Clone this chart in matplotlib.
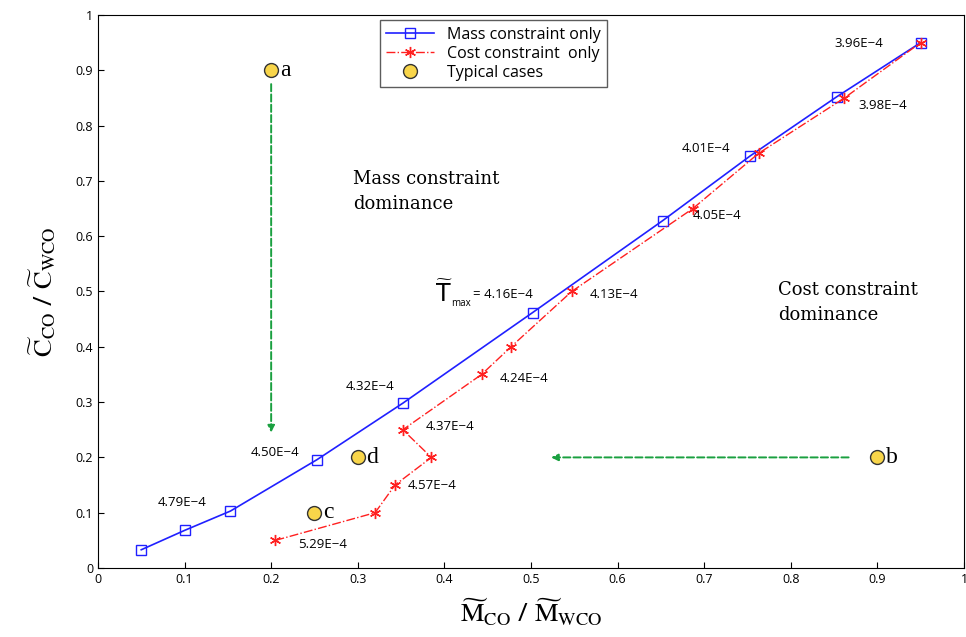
import matplotlib
matplotlib.use("Agg")
from matplotlib import pyplot as plt

plt.rcParams['font.family'] = ['Open Sans', 'DejaVu Sans']
plt.rcParams['mathtext.fontset'] = 'stix'

# data
mass_x = [0.05, 0.10, 0.153, 0.253, 0.352, 0.502, 0.652, 0.753, 0.853, 0.95]
mass_y = [0.033, 0.068, 0.103, 0.196, 0.298, 0.462, 0.628, 0.745, 0.852, 0.95]

cost_x = [0.205, 0.32, 0.343, 0.385, 0.352, 0.443, 0.477, 0.547, 0.687, 0.763, 0.862, 0.95]
cost_y = [0.05, 0.10, 0.15, 0.20, 0.25, 0.35, 0.40, 0.50, 0.65, 0.75, 0.85, 0.95]

case_x = [0.2, 0.9, 0.25, 0.3]
case_y = [0.9, 0.2, 0.1, 0.2]
case_lbl = ['a', 'b', 'c', 'd']

# T labels: text, x, y
t_lbl = ['3.96E\u22124', '3.98E\u22124', '4.01E\u22124', '4.05E\u22124', '4.13E\u22124',
         '4.24E\u22124', '4.32E\u22124', '4.37E\u22124', '4.50E\u22124', '4.57E\u22124',
         '4.79E\u22124', '5.29E\u22124']
t_x = [0.851, 0.878, 0.674, 0.687, 0.568, 0.464, 0.286, 0.378, 0.176, 0.358, 0.069, 0.231]
t_y = [0.949, 0.837, 0.759, 0.637, 0.494, 0.343, 0.329, 0.255, 0.208, 0.150, 0.118, 0.042]

ticks = [0, 0.1, 0.2, 0.3, 0.4, 0.5, 0.6, 0.7, 0.8, 0.9, 1]
tick_lbl = ['0', '0.1', '0.2', '0.3', '0.4', '0.5', '0.6', '0.7', '0.8', '0.9', '1']

fig = plt.figure(figsize=(9.66, 6.37), dpi=100)
ax = fig.add_axes([0.1014, 0.1083, 0.8965, 0.8682])

ax.plot(mass_x, mass_y, '-', color='#2020ff', lw=1.2, marker='s', ms=6.5,
        mfc='none', mec='#2020ff', mew=1.0, label='Mass constraint only')
ax.plot(cost_x, cost_y, '-.', color='#ff2020', lw=1.0, marker=(6, 2, 0), ms=8,
        mfc='#ff2020', mec='#ff2020', mew=1.0, label='Cost constraint  only')
ax.plot(case_x, case_y, 'o', ls='none', ms=10, mfc='#f8d54a', mec='#333333',
        mew=1.0, label='Typical cases')

for i in range(len(case_lbl)):
    ax.text(case_x[i] + 0.01, case_y[i], case_lbl[i], family='Liberation Serif',
            fontsize=17, va='center', ha='left')

for i in range(len(t_lbl)):
    ax.text(t_x[i], t_y[i], t_lbl[i], fontsize=9.5, va='center', ha='left')

# T max label
ax.text(0.389, 0.481, r'$\widetilde{\mathrm{T}}$', fontsize=17,
        math_fontfamily='dejavusans', va='baseline', ha='left')
ax.text(0.408, 0.474, 'max', fontsize=7, va='baseline', ha='left')
ax.text(0.433, 0.494, '= 4.16E\u22124', fontsize=9.5, va='center', ha='left')

ax.text(0.295, 0.68, 'Mass constraint\ndominance', family='DejaVu Serif',
        fontsize=13, va='center', ha='left', linespacing=1.5)
ax.text(0.785, 0.48, 'Cost constraint\ndominance', family='DejaVu Serif',
        fontsize=13, va='center', ha='left', linespacing=1.5)

# arrows
ax.annotate('', xy=(0.2, 0.24), xytext=(0.2, 0.88),
            arrowprops=dict(arrowstyle='-|>', color='#1aa040', ls='--', lw=1.4,
                            mutation_scale=10))
ax.annotate('', xy=(0.52, 0.2), xytext=(0.87, 0.2),
            arrowprops=dict(arrowstyle='-|>', color='#1aa040', ls='--', lw=1.4,
                            mutation_scale=10))

ax.set_xlim(0, 1)
ax.set_ylim(0, 1)
ax.set_xticks(ticks)
ax.set_xticklabels(tick_lbl)
ax.set_yticks(ticks)
ax.set_yticklabels(tick_lbl)
ax.tick_params(direction='in', labelsize=9, length=4)

ax.set_xlabel(r'$\widetilde{\mathrm{M}}_{\mathrm{CO}}$ / $\widetilde{\mathrm{M}}_{\mathrm{WCO}}$',
              fontsize=19, labelpad=8)
ax.set_ylabel(r'$\widetilde{\mathrm{C}}_{\mathrm{CO}}$ / $\widetilde{\mathrm{C}}_{\mathrm{WCO}}$',
              fontsize=19, labelpad=12)

leg = ax.legend(loc='upper left', bbox_to_anchor=(0.316, 1.005), fontsize=11.5,
                frameon=True, fancybox=False, edgecolor='#333333',
                handlelength=3.0, borderpad=0.4, labelspacing=0.2)
leg.get_frame().set_linewidth(1.0)

fig.savefig('out.png', dpi=100)
